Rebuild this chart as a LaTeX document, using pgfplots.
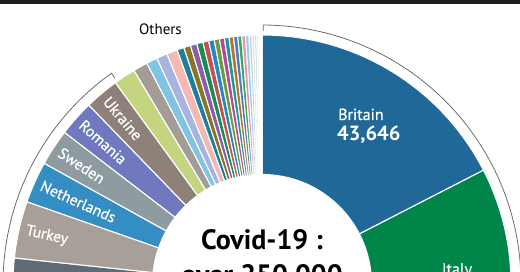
\documentclass[border=0pt]{standalone}
\usepackage{pgfplots}
\usepackage{pgfplotstable}
\pgfplotsset{compat=1.18}
\usepackage{fontspec}
\setmainfont{PT Sans}
\newfontfamily\labfont{PT Sans}[FakeBold=0.6]

\definecolor{cBritain}{HTML}{1F6898}
\definecolor{cItaly}{HTML}{008548}
\definecolor{cSpain}{HTML}{E8833A}
\definecolor{cFrance}{HTML}{6FB7DD}
\definecolor{cRussia}{HTML}{C8504F}
\definecolor{cBelgium}{HTML}{E3C546}
\definecolor{cGermany}{HTML}{5E6B75}
\definecolor{cTurkey}{HTML}{A89F99}
\definecolor{cNetherlands}{HTML}{348EC4}
\definecolor{cSweden}{HTML}{8E9BA0}
\definecolor{cRomania}{HTML}{7078C0}
\definecolor{cUkraine}{HTML}{8E817A}
\definecolor{o1}{HTML}{C5D47F}
\definecolor{o2}{HTML}{A49C97}
\definecolor{o3}{HTML}{80C3E2}
\definecolor{o4}{HTML}{A8B4E0}
\definecolor{o5}{HTML}{F4B8B5}
\definecolor{o6}{HTML}{1E7F9B}
\definecolor{o7}{HTML}{8A7424}
\definecolor{o8}{HTML}{8C5DA8}
\definecolor{o9}{HTML}{1A8A58}
\definecolor{o10}{HTML}{C4514E}
\definecolor{o11}{HTML}{2088C9}
\definecolor{o12}{HTML}{6F9A3C}
\definecolor{o13}{HTML}{B4499B}
\definecolor{o14}{HTML}{1B9A93}
\definecolor{o15}{HTML}{B5742B}
\definecolor{o16}{HTML}{4A7CC4}
\definecolor{o17}{HTML}{3DA45F}
\definecolor{o18}{HTML}{E893AE}
\definecolor{o19}{HTML}{92CFE6}
\definecolor{o20}{HTML}{C9D3D8}
\definecolor{o21}{HTML}{D7DFE3}
\definecolor{o22}{HTML}{C5D9E0}
\definecolor{o23}{HTML}{DDE3E6}
\definecolor{o24}{HTML}{E2E8EA}
\definecolor{o25}{HTML}{D0DADF}
\definecolor{o26}{HTML}{E6EBED}
\definecolor{o27}{HTML}{EEF1F2}

% deaths per country, clockwise from the top
\pgfplotstableread[col sep=comma]{
country,deaths,colour
Britain,43646,cBritain
Italy,36543,cItaly
Spain,33775,cSpain
France,33303,cFrance
Russia,24423,cRussia
Belgium,10327,cBelgium
Germany,9789,cGermany
Turkey,9224,cTurkey
Netherlands,6751,cNetherlands
Sweden,5918,cSweden
Romania,5850,cRomania
Ukraine,5570,cUkraine
other1,3550,o1
other2,2350,o2
other3,1800,o3
other4,1750,o4
other5,1750,o5
other6,1150,o6
other7,1100,o7
other8,1050,o8
other9,1000,o9
other10,950,o10
other11,900,o11
other12,850,o12
other13,800,o13
other14,760,o14
other15,720,o15
other16,680,o16
other17,640,o17
other18,600,o18
other19,560,o19
other20,480,o20
other21,420,o21
other22,360,o22
other23,300,o23
other24,240,o24
other25,160,o25
other26,90,o26
other27,40,o27
}\deaths

\def\Rout{249}
\def\Rin{109.5}
\def\Rlab{242}
\tikzset{radlab/.style={font=\labfont\fontsize{15.5}{17}\selectfont, text=white, anchor=west, inner sep=0pt}}

\begin{document}
\begin{tikzpicture}
\path[use as bounding box] (0,0) rectangle (520pt,272pt);
\begin{axis}[
  at={(0pt,0pt)}, anchor=south west,
  scale only axis, width=520pt, height=272pt,
  xmin=-262, xmax=258, ymin=12, ymax=284,
  hide axis, clip=true,
]
\pgfplotstablegetrowsof{\deaths}
\pgfmathtruncatemacro{\lastrow}{\pgfplotsretval-1}
\def\total{0}
\pgfplotsforeachungrouped \i in {0,...,\lastrow}{%
  \pgfplotstablegetelem{\i}{deaths}\of\deaths
  \edef\total{\fpeval{\total+\pgfplotsretval}}%
}
\def\cur{90}
\pgfplotsforeachungrouped \i in {0,...,\lastrow}{%
  \pgfplotstablegetelem{\i}{deaths}\of\deaths
  \edef\val{\pgfplotsretval}%
  \pgfplotstablegetelem{\i}{colour}\of\deaths
  \edef\col{\pgfplotsretval}%
  \pgfplotstablegetelem{\i}{country}\of\deaths
  \edef\cname{\pgfplotsretval}%
  \edef\aone{\fpeval{round(\cur,4)}}%
  \edef\atwo{\fpeval{round(\cur-\val/\total*360,4)}}%
  \edef\amid{\fpeval{round((\aone+\atwo)/2,4)}}%
  \expandafter\xdef\csname mid@\cname\endcsname{\amid}%
  \expandafter\xdef\csname end@\cname\endcsname{\atwo}%
  \edef\doit{\noexpand\fill[\col, draw=white, line width=1.1pt]
     (axis cs:{\fpeval{round(\Rout*cosd(\aone),4)}},{\fpeval{round(\Rout*sind(\aone),4)}})
     arc[start angle=\aone, end angle=\atwo, radius=\Rout pt]
     -- (axis cs:{\fpeval{round(\Rin*cosd(\atwo),4)}},{\fpeval{round(\Rin*sind(\atwo),4)}})
     arc[start angle=\atwo, end angle=\aone, radius=\Rin pt] -- cycle;}%
  \doit
  \let\cur\atwo
}
% bracket over the "Others"
\edef\bs{\fpeval{round(\csname end@Ukraine\endcsname-0.5,4)}}%
\edef\doit{\noexpand\draw[gray!85!black, line width=0.8pt]
  (axis cs:{\fpeval{round(253*cosd(\bs),4)}},{\fpeval{round(253*sind(\bs),4)}})
  -- (axis cs:{\fpeval{round(259*cosd(\bs),4)}},{\fpeval{round(259*sind(\bs),4)}})
  arc[start angle=\bs, end angle=89.7, radius=259pt]
  -- (axis cs:{\fpeval{round(253*cosd(89.7),4)}},{\fpeval{round(253*sind(89.7),4)}});}%
\doit
\node[anchor=base, font=\fontsize{15}{17}\selectfont, inner sep=0pt] at (axis cs:-101.5,249) {Others};
% radial labels
\pgfplotsforeachungrouped \cc in {Turkey,Netherlands,Sweden,Romania,Ukraine}{%
  \edef\m{\csname mid@\cc\endcsname}%
  \edef\doit{\noexpand\node[radlab, rotate=\fpeval{\m-180}] at (axis cs:{\fpeval{round(\Rlab*cosd(\m),4)}},{\fpeval{round(\Rlab*sind(\m),4)}}) {\cc};}%
  \doit
}
% Britain, Italy
\node[anchor=base west, inner sep=0pt, text=white, font=\labfont\fontsize{16}{18}\selectfont] at (axis cs:76,164) {Britain};
\node[anchor=base west, inner sep=0pt, text=white, font=\fontsize{20.5}{22}\selectfont\bfseries] at (axis cs:75,143) {43,646};
\node[anchor=base west, inner sep=0pt, text=white, font=\labfont\fontsize{16}{18}\selectfont] at (axis cs:179.7,9.5) {Italy};
\node[anchor=base west, inner sep=0pt, text=white, font=\fontsize{20.5}{22}\selectfont\bfseries] at (axis cs:179,-12) {36,543};
% centre title
\node[anchor=base, inner sep=0pt, font=\fontsize{28}{30}\selectfont\bfseries] at (axis cs:0,34) {Covid-19 :};
\node[anchor=base, inner sep=0pt, font=\fontsize{28}{30}\selectfont\bfseries] at (axis cs:0,-1) {over 250,000};
% top rule
\fill[black!88] (axis cs:-262,279.6) rectangle (axis cs:258,284);
\end{axis}
\end{tikzpicture}
\end{document}
